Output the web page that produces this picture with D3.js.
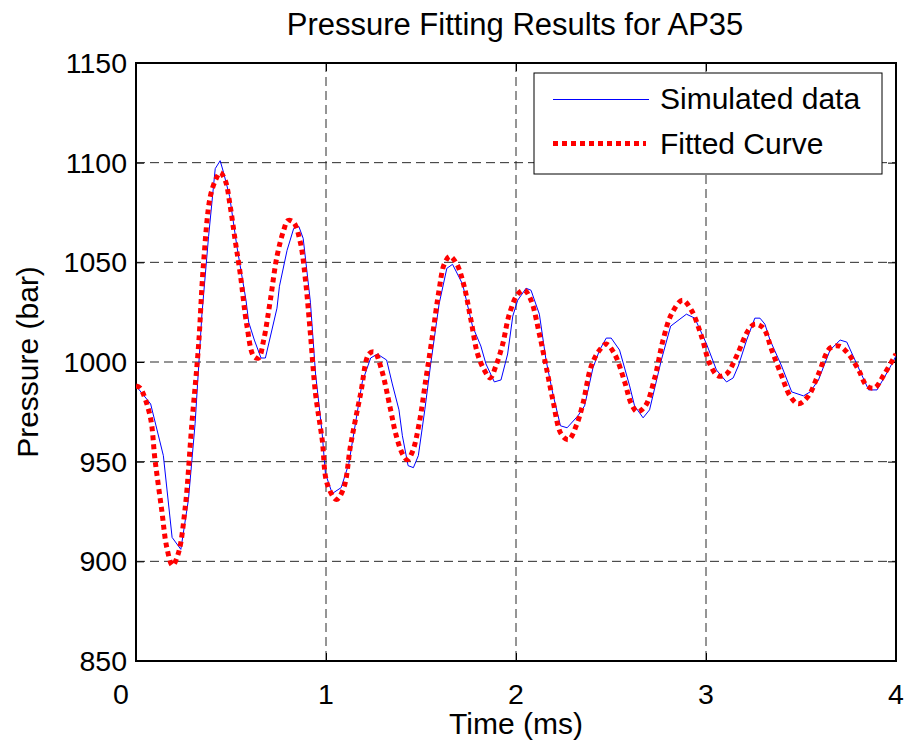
<!DOCTYPE html>
<html>
<head>
<meta charset="utf-8" />
<title>Pressure Fitting Results for AP35</title>
<script src="https://d3js.org/d3.v7.min.js"></script>
<style>
  body { margin: 0; background: #fff; }
  svg text { font-family: "Liberation Sans", Arial, sans-serif; fill: #000; }
  .grid line { stroke: #2a2a2a; stroke-width: 1; stroke-dasharray: 9,5; }
</style>
</head>
<body>
<svg id="chart" width="907" height="746"></svg>
<script>
// simulated data (blue)
var simTime = [0, 0.077, 0.144, 0.19, 0.236, 0.276, 0.311, 0.347, 0.382, 0.417, 0.443, 0.461, 0.493, 0.531, 0.579, 0.593, 0.623, 0.658, 0.681, 0.742, 0.755, 0.795, 0.83, 0.857, 0.88, 0.918, 0.945, 0.98, 0.997, 1.033, 1.08, 1.12, 1.191, 1.235, 1.27, 1.319, 1.349, 1.384, 1.402, 1.432, 1.46, 1.486, 1.52, 1.551, 1.595, 1.636, 1.666, 1.719, 1.771, 1.815, 1.842, 1.886, 1.921, 1.956, 1.983, 2.009, 2.053, 2.079, 2.123, 2.158, 2.194, 2.234, 2.269, 2.326, 2.361, 2.405, 2.44, 2.475, 2.501, 2.545, 2.598, 2.624, 2.669, 2.703, 2.765, 2.814, 2.897, 2.941, 3.003, 3.055, 3.108, 3.143, 3.17, 3.214, 3.257, 3.284, 3.31, 3.337, 3.398, 3.451, 3.513, 3.548, 3.592, 3.653, 3.706, 3.741, 3.803, 3.856, 3.9, 3.961, 4.0];
var simPressure = [988, 979, 953, 912, 906, 931, 969, 1024, 1063, 1097, 1101, 1095, 1083, 1058, 1031, 1020, 1011, 1002, 1002, 1027, 1038, 1056, 1067, 1068, 1062, 1030, 994, 964, 944, 934, 937, 949, 990, 1002, 1004, 1001, 989, 976, 963, 948, 947, 953, 976, 999, 1029, 1047, 1049, 1039, 1018, 1008, 999, 990, 991, 1004, 1023, 1031, 1037, 1036, 1024, 1001, 984, 968, 967, 973, 978, 997, 1006, 1012, 1012, 1006, 988, 978, 972, 976, 1001, 1018, 1024, 1022, 1009, 996, 990, 992, 998, 1011, 1022, 1022, 1019, 1011, 998, 985, 983, 985, 991, 1006, 1011, 1010, 997, 986, 986, 996, 1003];

// fitted curve (red)
var fitTime = [0, 0.021, 0.074, 0.1, 0.135, 0.162, 0.192, 0.223, 0.259, 0.294, 0.329, 0.355, 0.391, 0.422, 0.443, 0.47, 0.496, 0.522, 0.549, 0.584, 0.619, 0.645, 0.672, 0.707, 0.742, 0.777, 0.8, 0.83, 0.865, 0.892, 0.918, 0.945, 0.98, 1.006, 1.055, 1.094, 1.129, 1.182, 1.226, 1.255, 1.29, 1.34, 1.367, 1.402, 1.428, 1.455, 1.49, 1.525, 1.56, 1.595, 1.622, 1.652, 1.689, 1.727, 1.763, 1.798, 1.833, 1.864, 1.894, 1.93, 1.965, 2.009, 2.044, 2.079, 2.123, 2.158, 2.194, 2.237, 2.276, 2.317, 2.352, 2.396, 2.44, 2.475, 2.519, 2.572, 2.607, 2.639, 2.681, 2.73, 2.774, 2.818, 2.876, 2.923, 2.976, 3.02, 3.064, 3.108, 3.161, 3.223, 3.257, 3.302, 3.346, 3.398, 3.442, 3.486, 3.539, 3.592, 3.653, 3.701, 3.75, 3.803, 3.847, 3.887, 3.939, 4.0];
var fitPressure = [988, 987, 973, 951, 926, 907, 898, 904, 927, 969, 1008, 1049, 1083, 1092, 1095, 1091, 1078, 1061, 1044, 1018, 1003, 1002, 1011, 1031, 1053, 1066, 1071, 1070, 1060, 1041, 1014, 984, 961, 939, 931, 937, 958, 984, 1004, 1005, 997, 976, 964, 954, 951, 955, 969, 991, 1013, 1036, 1049, 1053, 1049, 1038, 1021, 1004, 996, 992, 998, 1009, 1024, 1034, 1036, 1031, 1014, 998, 981, 964, 961, 968, 979, 998, 1006, 1009, 1004, 990, 979, 975, 978, 992, 1011, 1024, 1031, 1026, 1013, 999, 993, 994, 1003, 1016, 1019, 1017, 1006, 993, 983, 979, 983, 994, 1007, 1008, 1004, 996, 988, 987, 994, 1004];

var xTicks = [0, 1, 2, 3, 4];
var yTicks = [850, 900, 950, 1000, 1050, 1100, 1150];
var seriesNames = ["Simulated data", "Fitted Curve"];

var plotLeft = 136, plotRight = 896, plotTop = 63, plotBottom = 661;
var svg = d3.select("#chart");

var x = d3.scaleLinear().domain([0, 4]).range([plotLeft, plotRight]);
var y = d3.scaleLinear().domain([850, 1150]).range([plotBottom, plotTop]);

svg.append("defs").append("clipPath").attr("id", "plotclip")
  .append("rect").attr("x", plotLeft).attr("y", plotTop)
  .attr("width", plotRight - plotLeft).attr("height", plotBottom - plotTop);

// grid
var grid = svg.append("g").attr("class", "grid");
grid.selectAll("line.v").data(xTicks.slice(1, -1)).enter().append("line")
  .attr("x1", function(d) { return x(d); }).attr("x2", function(d) { return x(d); })
  .attr("y1", plotTop).attr("y2", plotBottom);
grid.selectAll("line.h").data(yTicks.slice(1, -1)).enter().append("line")
  .attr("x1", plotLeft).attr("x2", plotRight)
  .attr("y1", function(d) { return y(d); }).attr("y2", function(d) { return y(d); });

// axes (ticks inward on all sides, MATLAB style)
var axL = svg.append("g").attr("transform", "translate(" + plotLeft + ",0)")
  .call(d3.axisRight(y).tickValues(yTicks).tickSize(8).tickFormat(""));
var axR = svg.append("g").attr("transform", "translate(" + plotRight + ",0)")
  .call(d3.axisLeft(y).tickValues(yTicks).tickSize(8).tickFormat(""));
var axB = svg.append("g").attr("transform", "translate(0," + plotBottom + ")")
  .call(d3.axisTop(x).tickValues(xTicks).tickSize(8).tickFormat(""));
var axT = svg.append("g").attr("transform", "translate(0," + plotTop + ")")
  .call(d3.axisBottom(x).tickValues(xTicks).tickSize(8).tickFormat(""));
[axL, axR, axB, axT].forEach(function(a) {
  a.select(".domain").remove();
  a.selectAll("line").attr("stroke", "#000");
});

svg.append("rect")
  .attr("x", plotLeft).attr("y", plotTop)
  .attr("width", plotRight - plotLeft).attr("height", plotBottom - plotTop)
  .attr("fill", "none").attr("stroke", "#000").attr("stroke-width", 2);

// tick labels
svg.append("g").selectAll("text").data(yTicks).enter().append("text")
  .attr("x", plotLeft - 9).attr("y", function(d) { return y(d) + 10; })
  .attr("text-anchor", "end").attr("font-size", 28.5)
  .text(function(d) { return d; });
svg.append("g").selectAll("text").data(xTicks).enter().append("text")
  .attr("x", function(d) { return d === 0 ? x(d) - 15 : x(d); })
  .attr("y", plotBottom + 43)
  .attr("text-anchor", "middle").attr("font-size", 28.5)
  .text(function(d) { return d; });

// lines
var simData = simTime.map(function(t, i) { return [t, simPressure[i]]; });
var fitData = fitTime.map(function(t, i) { return [t, fitPressure[i]]; });

var plot = svg.append("g").attr("clip-path", "url(#plotclip)");
plot.append("path").datum(simData)
  .attr("fill", "none").attr("stroke", "#0000ff").attr("stroke-width", 1)
  .attr("d", d3.line().x(function(d) { return x(d[0]); }).y(function(d) { return y(d[1]); }));
plot.append("path").datum(fitData)
  .attr("fill", "none").attr("stroke", "#ff0000").attr("stroke-width", 5)
  .attr("stroke-dasharray", "5,4")
  .attr("d", d3.line().curve(d3.curveCatmullRom.alpha(0.5))
    .x(function(d) { return x(d[0]); }).y(function(d) { return y(d[1]); }));

// titles
svg.append("text").attr("x", 515).attr("y", 35).attr("text-anchor", "middle")
  .attr("font-size", 31).text("Pressure Fitting Results for AP35");
svg.append("text").attr("x", (plotLeft + plotRight) / 2).attr("y", 734).attr("text-anchor", "middle")
  .attr("font-size", 30).text("Time (ms)");
svg.append("text").attr("transform", "translate(38," + ((plotTop + plotBottom) / 2) + ") rotate(-90)")
  .attr("text-anchor", "middle").attr("font-size", 30).text("Pressure (bar)");

// legend
var lg = svg.append("g");
lg.append("rect").attr("x", 534).attr("y", 73).attr("width", 348).attr("height", 101)
  .attr("fill", "#fff").attr("stroke", "#000").attr("stroke-width", 1);
lg.append("line").attr("x1", 553).attr("x2", 649).attr("y1", 99.5).attr("y2", 99.5)
  .attr("stroke", "#0000ff").attr("stroke-width", 1);
lg.append("line").attr("x1", 553).attr("x2", 646).attr("y1", 143.5).attr("y2", 143.5)
  .attr("stroke", "#ff0000").attr("stroke-width", 5).attr("stroke-dasharray", "5,4");
lg.selectAll("text").data(seriesNames).enter().append("text")
  .attr("x", 660).attr("y", function(d, i) { return 109 + i * 45; })
  .attr("font-size", 30).text(function(d) { return d; });
</script>
</body>
</html>
